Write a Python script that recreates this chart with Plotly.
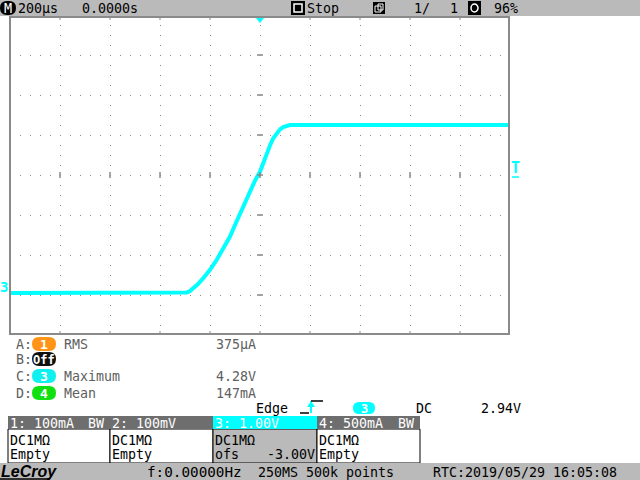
import plotly.graph_objects as go

# ---- data ----
time_us = [-1000, -440, -293, -280, -267, -247, -227, -200, -173, -147, -120, -100, -80,
           -60, -40, -20, 0, 13, 27, 40, 53, 67, 80, 93, 107, 120, 1000]
volts = [0.05, 0.05, 0.06, 0.10, 0.17, 0.28, 0.42, 0.63, 0.88, 1.16, 1.46, 1.75, 2.04,
         2.33, 2.63, 2.86, 3.08, 3.31, 3.54, 3.74, 3.92, 4.05, 4.14, 4.20, 4.24, 4.25, 4.25]

x_range = [-1000, 1000]   # 200 us/div, 10 div
y_range = [-1, 7]         # 1 V/div, ofs -3 V

header_texts = ["200µs", "0.0000s", "Stop", "1/", "1", "96%"]
meas_labels = ["A:", "B:", "C:", "D:"]
meas_src = ["1", "Off", "3", "4"]
meas_names = ["RMS", "", "Maximum", "Mean"]
meas_values = ["375µA", "", "4.28V", "147mA"]
ch_heads = ["1: 100mA", "2: 100mV", "3: 1.00V", "4: 500mA"]
ch_bw = ["BW", "", "", "BW"]
ch_row2 = ["DC1MΩ", "DC1MΩ", "DC1MΩ", "DC1MΩ"]
ch_row3 = ["Empty", "Empty", "ofs", "Empty"]
trig_texts = ["Edge", "3", "DC", "2.94V"]
status_texts = ["f:0.00000Hz", "250MS 500k points", "RTC:2019/05/29 16:05:08"]

W, H = 640, 480
MONO = "DejaVu Sans Mono"
FS = 13.3
CYAN = "#00ffff"
GRIDC = "#8a8a8a"


def px(x):
    return x / W


def py(y):
    return 1 - y / H


shapes = []
annos = []


def rect(x0, y0, x1, y1, fill=None, line=None, lw=1, layer="above"):
    shapes.append(dict(type="rect", xref="paper", yref="paper",
                       x0=px(x0), x1=px(x1), y0=py(y1), y1=py(y0),
                       fillcolor=fill if fill else "rgba(0,0,0,0)",
                       line=dict(color=line if line else "rgba(0,0,0,0)", width=lw if line else 0),
                       layer=layer))


def seg(x0, y0, x1, y1, color, lw=1):
    shapes.append(dict(type="line", xref="paper", yref="paper",
                       x0=px(x0), x1=px(x1), y0=py(y0), y1=py(y1),
                       line=dict(color=color, width=lw), layer="above"))


def path(points_cmd, fill, line=None):
    shapes.append(dict(type="path", xref="paper", yref="paper", path=points_cmd,
                       fillcolor=fill,
                       line=dict(color=line if line else "rgba(0,0,0,0)", width=1 if line else 0),
                       layer="above"))


def pill(x0, y0, x1, y1, color):
    r = (y1 - y0) / 2
    def p(x, y):
        return f"{px(x)},{py(y)}"
    d = (f"M {p(x0 + r, y0)} L {p(x1 - r, y0)} Q {p(x1, y0)} {p(x1, y0 + r)} "
         f"Q {p(x1, y1)} {p(x1 - r, y1)} L {p(x0 + r, y1)} Q {p(x0, y1)} {p(x0, y1 - r)} "
         f"Q {p(x0, y0)} {p(x0 + r, y0)} Z")
    path(d, color)


def text(x, y, s, color="black", size=FS, anchor="left", family=MONO, bold=False):
    if bold:
        s = f"<b>{s}</b>"
    annos.append(dict(x=px(x), y=py(y), xref="paper", yref="paper", text=s,
                      showarrow=False, xanchor=anchor, yanchor="middle",
                      font=dict(family=family, size=size, color=color),
                      borderpad=0))


# ---- plot area geometry ----
PL, PR, PT, PB = 10, 510, 15, 335

fig = go.Figure()
fig.add_trace(go.Scatter(x=time_us, y=volts, mode="lines",
                         line=dict(color=CYAN, width=4), hoverinfo="skip"))

# ---- header bar ----
rect(0, 0, 640, 16, fill="#bababa", layer="above")
pill(0, 1, 16, 15, "black")
text(8, 8.5, "M", color="white", size=13.5, anchor="center")
text(17, 8.5, header_texts[0])
text(81, 8.5, header_texts[1])
rect(291, 1, 305, 15, fill="black")
rect(294, 4, 302, 12, line="white", lw=1.5)
text(306, 8.5, header_texts[2])
rect(373, 2, 385, 14, fill="black")
rect(375, 6, 381, 12, line="white", lw=1)
rect(378, 4, 383, 10, line="white", lw=1)
text(413, 8.5, header_texts[3])
text(459, 8.5, header_texts[4], anchor="right")
rect(468, 1, 481, 15, fill="black")
shapes.append(dict(type="circle", xref="paper", yref="paper", x0=px(471), x1=px(478),
                   y0=py(12), y1=py(4), fillcolor="black", line=dict(color="white", width=1.5),
                   layer="above"))
text(493, 8.5, header_texts[5])

# ---- plot border and ticks ----
rect(PL, 17, 509, 334, line=GRIDC, lw=2)
for i in range(1, 10):
    xx = PL + 50 * i
    seg(xx, 17, xx, 20, GRIDC)
    seg(xx, 331, xx, 334, GRIDC)
# centre cross tick marks
for j in range(1, 8):
    yy = PT + 40 * j
    seg(257, yy, 263, yy, GRIDC, 1.5)
for i in range(1, 10):
    xx = PL + 50 * i
    seg(xx, 172, xx, 178, GRIDC, 1.5)

# trigger markers
path(f"M {px(256)},{py(18)} L {px(264)},{py(18)} L {px(260)},{py(23)} Z", CYAN)
text(4, 287, "3", color=CYAN, size=14, anchor="center", bold=True)
text(515.5, 168, "T", color=CYAN, size=15, anchor="center", bold=True)
seg(512, 177, 519, 177, CYAN, 1.5)

# ---- measurement area ----
pill_colors = ["#ff9418", "#101010", "#10f0f0", "#10e010"]
rows_y = [344, 359, 376, 393]
for k in range(4):
    yy = rows_y[k]
    text(15, yy, meas_labels[k], color="#606060")
    pill(32, yy - 7, 56, yy + 7, pill_colors[k])
    text(44, yy + 0.5, meas_src[k], color="white", size=12 if k == 1 else 13, anchor="center", bold=True)
    if meas_names[k]:
        text(63, yy, meas_names[k], color="#606060")
    if meas_values[k]:
        text(215, yy, meas_values[k], color="#606060")

# trigger info line
text(255, 408, trig_texts[0])
seg(300, 413, 309, 413, "black", 1.5)
seg(311, 413, 311, 401, CYAN, 2)
path(f"M {px(307)},{py(407)} L {px(315)},{py(407)} L {px(311)},{py(401)} Z", CYAN)
seg(311, 401, 323, 401, "black", 1.5)
pill(353, 402, 375, 414, CYAN)
text(364, 408.5, trig_texts[1], color="white", size=12, anchor="center", bold=True)
text(415, 408, trig_texts[2])
text(480, 408, trig_texts[3])

# ---- channel boxes ----
box_x = [(8, 110), (110, 213), (213, 317), (317, 420)]
for k in range(4):
    x0, x1 = box_x[k]
    head_fill = CYAN if k == 2 else "#6e6e6e"
    body_fill = "#bababa" if k == 2 else "white"
    rect(x0, 429, x1, 463, fill=body_fill, line="black", lw=1)
    rect(x0, 416, x1, 429, fill=head_fill)
    text(x0 + 1, 423, ch_heads[k], color="white")
    if ch_bw[k]:
        text(x1 - 5, 423, ch_bw[k], color="white", anchor="right")
    text(x0 + 1, 440, ch_row2[k])
    text(x0 + 1, 454.5, ch_row3[k])
text(316, 454.5, "-3.00V", anchor="right")

# ---- status bar ----
rect(0, 463, 640, 480, fill="#bababa")
text(0, 471, "<i>LeCroy</i>", family="Liberation Sans", size=16, bold=True)
seg(0, 479, 50, 479, "black", 1.5)
text(146, 472, status_texts[0], size=14.3)
text(257, 472, status_texts[1])
text(432, 472, status_texts[2])

fig.update_layout(
    width=W, height=H,
    margin=dict(l=0, r=0, t=0, b=0),
    paper_bgcolor="white", plot_bgcolor="white",
    showlegend=False,
    shapes=shapes, annotations=annos,
    xaxis=dict(domain=[px(PL), px(PR)], range=x_range, dtick=200, tick0=-1000,
               showgrid=True, gridcolor=GRIDC, gridwidth=1, griddash="1px,9px",
               showticklabels=False, ticks="", zeroline=False, showline=False, fixedrange=True),
    yaxis=dict(domain=[py(PB), py(PT)], range=y_range, dtick=1, tick0=-1,
               showgrid=True, gridcolor=GRIDC, gridwidth=1, griddash="1px,9px",
               showticklabels=False, ticks="", zeroline=False, showline=False, fixedrange=True),
)

fig.write_html("out.html", config={"displayModeBar": False},
               post_script="document.body.style.margin='0';document.body.style.padding='0';document.body.style.overflow='hidden';")
